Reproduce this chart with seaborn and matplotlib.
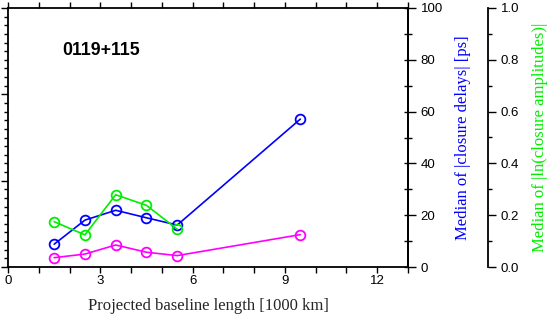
import numpy as np
import pandas as pd
import matplotlib
matplotlib.use("Agg")
import matplotlib.pyplot as plt
import seaborn as sns
from matplotlib.ticker import MultipleLocator, FixedLocator, NullFormatter

# data
baseline = [1.5, 2.5, 3.5, 4.5, 5.5, 9.5]
delays = [8.8, 18.1, 21.9, 19.0, 16.2, 57.1]
phases = [3.6, 5.0, 8.5, 5.7, 4.4, 12.5]
baseline_amp = [1.5, 2.5, 3.5, 4.5, 5.5]
amplitudes = [0.175, 0.124, 0.279, 0.238, 0.146]

source = "0119+115"
xlabel = "Projected baseline length [1000 km]"
delay_label = "Median of |closure delays| [ps]"
amp_label = "Median of |ln(closure amplitudes)|"

sns.set_style("ticks")
plt.rcParams["font.family"] = ["Liberation Sans", "DejaVu Sans"]
plt.rcParams["axes.linewidth"] = 1.3
plt.rcParams["text.color"] = "black"
plt.rcParams["xtick.color"] = "black"
plt.rcParams["ytick.color"] = "black"
plt.rcParams["axes.edgecolor"] = "black"

fig = plt.figure(figsize=(5.47, 3.18), dpi=100)
ax = fig.add_axes([8 / 547, 1 - 267 / 318, 400 / 547, 259 / 318])

mk = dict(marker="o", markersize=7, markerfacecolor="none", markeredgewidth=1.3,
          linewidth=1.2)
sns.lineplot(x=baseline, y=phases, ax=ax, color="magenta", markeredgecolor="magenta", **mk)
sns.lineplot(x=baseline, y=delays, ax=ax, color="blue", markeredgecolor="blue", **mk)

ax.set_xlim(0, 13)
ax.set_ylim(0, 100)
ax.xaxis.set_major_locator(MultipleLocator(3))
ax.xaxis.set_minor_locator(MultipleLocator(1))
ax.tick_params(axis="x", which="both", direction="out", length=4, width=1,
               top=True, bottom=True, labelsize=9.5, pad=2)
ax.yaxis.set_major_locator(FixedLocator(np.linspace(0, 100, 4)))
ax.yaxis.set_minor_locator(FixedLocator(np.linspace(0, 100, 31)))
ax.yaxis.set_major_formatter(NullFormatter())
ax.tick_params(axis="y", which="major", direction="out", length=5, width=1)
ax.tick_params(axis="y", which="minor", direction="out", length=3, width=1)
ax.set_xlabel(xlabel, family=["Liberation Serif"], fontsize=12, labelpad=8)
ax.set_ylabel("")
ax.text(0.135, 0.834, source, transform=ax.transAxes, fontsize=12.8,
        fontweight="bold", va="center", ha="left")

# inward ticks on the right frame
axi = ax.twinx()
axi.set_ylim(0, 100)
axi.yaxis.set_major_locator(MultipleLocator(10))
axi.tick_params(axis="y", direction="in", length=3, width=1, labelright=False)
for s in axi.spines.values():
    s.set_visible(False)

# right axis for delays
axr = ax.twinx()
axr.set_ylim(0, 100)
axr.yaxis.set_major_locator(MultipleLocator(20))
axr.yaxis.set_minor_locator(MultipleLocator(10))
axr.tick_params(axis="y", which="major", direction="out", length=6, width=1,
                labelsize=9.5, pad=3)
axr.tick_params(axis="y", which="minor", direction="out", length=3, width=1)
for k in ["left", "top", "bottom"]:
    axr.spines[k].set_visible(False)
axr.set_ylabel(delay_label, color="blue", family=["Liberation Serif"], fontsize=12)
axr.yaxis.set_label_coords(1.1175, 0.5)

# outer axis for amplitudes
axa = ax.twinx()
axa.spines["right"].set_position(("axes", 1.2))
for k in ["left", "top", "bottom"]:
    axa.spines[k].set_visible(False)
sns.lineplot(x=baseline_amp, y=amplitudes, ax=axa, color="#00ee00",
             markeredgecolor="#00ee00", **mk)
axa.set_ylim(0, 1)
axa.yaxis.set_major_locator(MultipleLocator(0.2))
axa.yaxis.set_minor_locator(MultipleLocator(0.1))
axa.yaxis.set_major_formatter(plt.FuncFormatter(lambda v, p: f"{v:.1f}"))
axa.tick_params(axis="y", which="major", direction="out", length=6, width=1,
                labelsize=9.5, pad=3)
axa.tick_params(axis="y", which="minor", direction="out", length=3, width=1)
axa.set_ylabel(amp_label, color="#00ee00", family=["Liberation Serif"], fontsize=12)
axa.yaxis.set_label_coords(1.31, 0.5)

fig.savefig("out.png", dpi=100)
